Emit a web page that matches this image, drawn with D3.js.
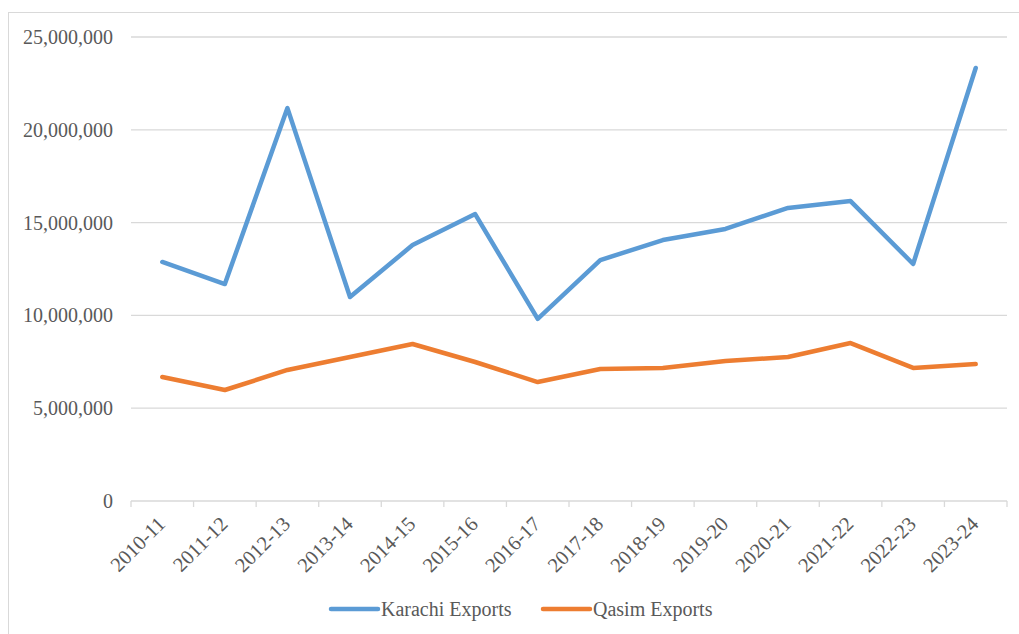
<!DOCTYPE html>
<html><head><meta charset="utf-8">
<script src="https://cdn.jsdelivr.net/npm/d3@7"></script>
<style>body{margin:0;background:#fff}svg{display:block}text{font-family:"Liberation Serif","Times New Roman",serif;fill:#595959}</style>
</head><body><svg id="c" width="1019" height="634"></svg>
<script>
const categories=["2010-11","2011-12","2012-13","2013-14","2014-15","2015-16","2016-17","2017-18","2018-19","2019-20","2020-21","2021-22","2022-23","2023-24"];
const karachi=[12880000,11690000,21170000,10990000,13790000,15460000,9810000,12980000,14060000,14660000,15790000,16160000,12770000,23330000];
const qasim=[6680000,5980000,7060000,7760000,8460000,7490000,6410000,7110000,7170000,7540000,7760000,8510000,7170000,7380000];
const yTicks=[0,5000000,10000000,15000000,20000000,25000000];
const seriesNames=["Karachi Exports","Qasim Exports"];
const colors=["#5B9BD5","#ED7D31"];

const svg=d3.select("#c");
svg.append("rect").attr("x",8.5).attr("y",12.5).attr("width",1030).attr("height",640).attr("fill","none").attr("stroke","#d9d9d9");
const L=131,R=1007,T=37,B=501;
const x=d3.scaleBand().domain(categories).range([L,R]);
const y=d3.scaleLinear().domain([0,25000000]).range([B,T]);
const fmt=d3.format(",");
const g=svg.append("g");
g.selectAll(".grid").data(yTicks.filter(d=>d>0)).join("line").attr("x1",L).attr("x2",R).attr("y1",d=>y(d)).attr("y2",d=>y(d)).attr("stroke","#d9d9d9").attr("stroke-width",1.3);
g.selectAll(".yl").data(yTicks).join("text").attr("x",113).attr("y",d=>y(d)).attr("dy","0.35em").attr("text-anchor","end").attr("font-size",20).text(d=>fmt(d));
g.append("line").attr("x1",L).attr("x2",R).attr("y1",B).attr("y2",B).attr("stroke","#d9d9d9").attr("stroke-width",1.3);
const bounds=categories.map(c=>x(c)).concat([R]);
g.selectAll(".tk").data(bounds).join("line").attr("x1",d=>d).attr("x2",d=>d).attr("y1",B).attr("y2",B+6).attr("stroke","#d9d9d9").attr("stroke-width",1.3);
g.selectAll(".xl").data(categories).join("text").attr("font-size",20.5).attr("text-anchor","end")
 .attr("transform",d=>`translate(${x(d)+x.bandwidth()/2-6},${B+14}) rotate(-45)`).attr("dy","0.7em").text(d=>d);
const line=d3.line().x((d,i)=>x(categories[i])+x.bandwidth()/2).y(d=>y(d));
[karachi,qasim].forEach((s,i)=>{
 g.append("path").attr("d",line(s)).attr("fill","none").attr("stroke",colors[i]).attr("stroke-width",4.5).attr("stroke-linejoin","round").attr("stroke-linecap","round");
});
const lx=[331,543];
seriesNames.forEach((n,i)=>{
 g.append("line").attr("x1",lx[i]).attr("x2",lx[i]+47).attr("y1",609).attr("y2",609).attr("stroke",colors[i]).attr("stroke-width",4.5).attr("stroke-linecap","round");
 g.append("text").attr("x",lx[i]+50).attr("y",609).attr("dy","0.35em").attr("font-size",20).text(n);
});
</script></body></html>
